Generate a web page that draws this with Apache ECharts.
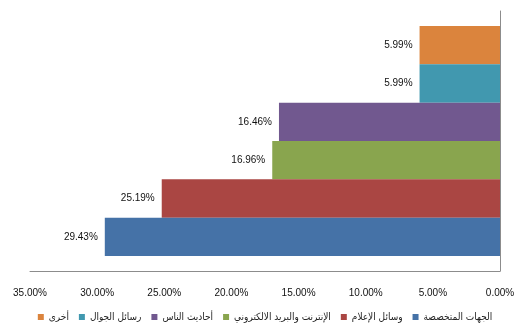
<!DOCTYPE html>
<html><head><meta charset="utf-8">
<script src="https://cdn.jsdelivr.net/npm/echarts@6/dist/echarts.min.js"></script>
<style>html,body{margin:0;padding:0;background:#fff}#c{width:530px;height:336px}</style>
</head><body><div id="c"></div>
<script>
const seriesNames = ['الجهات المتخصصة','وسائل الإعلام','الإنترنت والبريد الالكتروني','أحاديث الناس','رسائل الجوال','أخرى'];
const seriesValues = [0.2943, 0.2519, 0.1696, 0.1646, 0.0599, 0.0599];
const seriesColors = ['#4572A7','#AA4643','#89A54E','#71588F','#4198AF','#DB843D'];
const xTicks = [0, 0.05, 0.10, 0.15, 0.20, 0.25, 0.30, 0.35];

const chart = echarts.init(document.getElementById('c'), null, {renderer:'canvas'});
const font = 'Liberation Sans, Arial, sans-serif';
const order = seriesNames.map((_, i) => i).reverse();
chart.setOption({
  animation:false,
  grid:{left:30, right:30, top:11, height:260},
  legend:{
    top:312, left:'center', width:528, itemWidth:6, itemHeight:6, itemGap:10,
    icon:'rect', padding:0,
    textStyle:{fontSize:10, color:'#222', fontFamily:'DejaVu Sans Condensed, DejaVu Sans, sans-serif'},
    data: seriesNames.slice().reverse()
  },
  xAxis:{
    type:'value', inverse:true, min:xTicks[0], max:xTicks[xTicks.length-1], interval:0.05,
    axisLine:{show:true, lineStyle:{color:'#8c8c8c'}},
    axisTick:{show:false},
    splitLine:{show:false},
    axisLabel:{margin:17, fontSize:10, color:'#111', fontFamily:font,
      formatter:v=>(v*100).toFixed(2)+'%'}
  },
  yAxis:{
    type:'category', position:'right', data:[''],
    axisLine:{show:true, lineStyle:{color:'#8c8c8c'}},
    axisTick:{show:false}, axisLabel:{show:false}
  },
  series: order.map(i=>({
    name:seriesNames[i], type:'bar', data:[seriesValues[i]],
    barGap:'0%', barCategoryGap:'11.5%',
    itemStyle:{color:seriesColors[i]},
    label:{show:true, position:'left', distance:7, fontSize:10, color:'#111', fontFamily:font,
      formatter:p=>(p.value*100).toFixed(2)+'%'}
  }))
});
</script></body></html>
